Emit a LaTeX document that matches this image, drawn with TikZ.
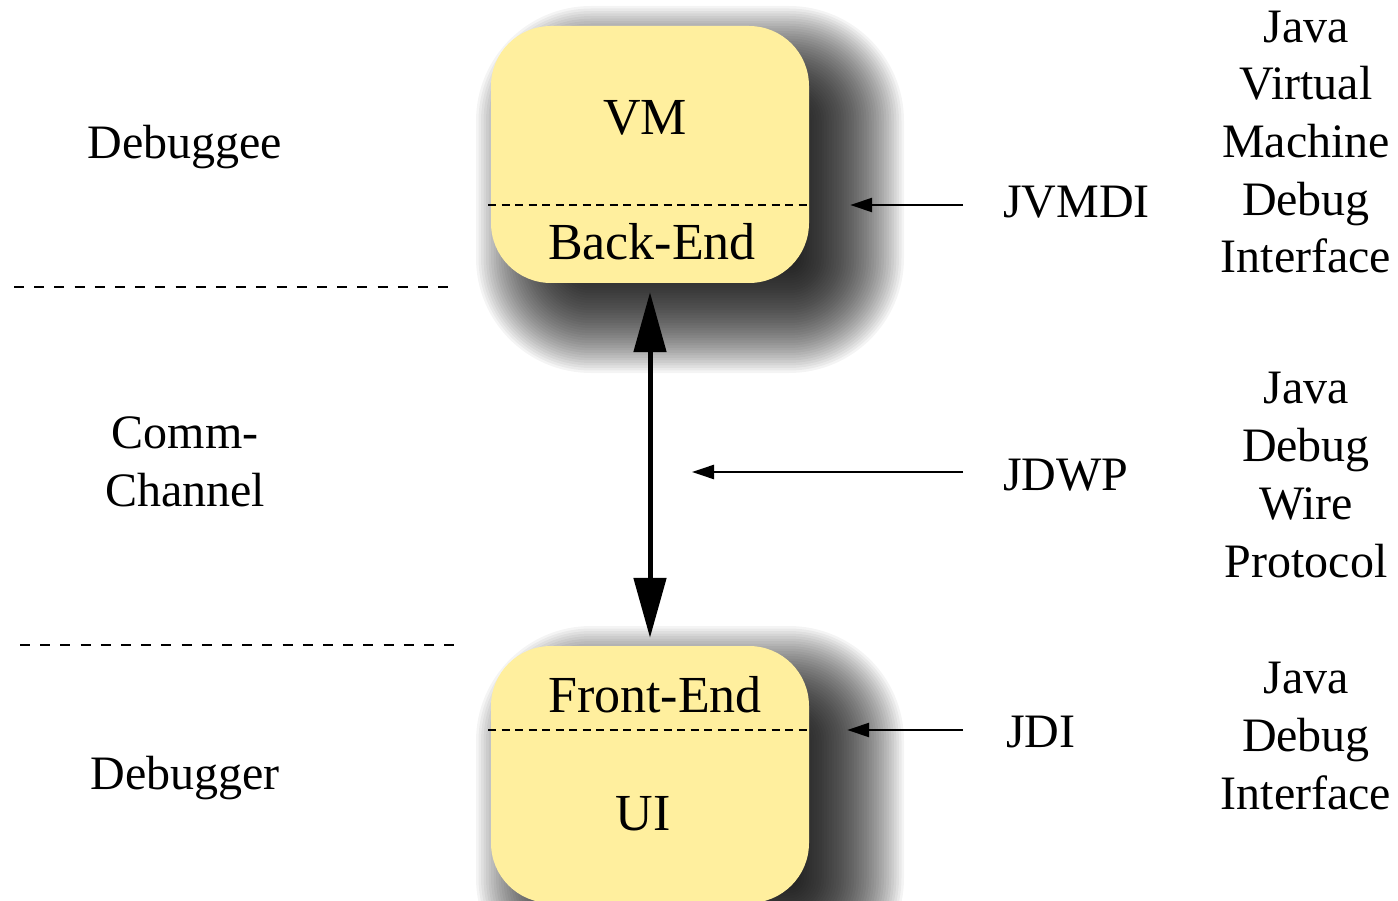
\documentclass[tikz,border=0pt]{standalone}
\usepackage{fontspec}
\setmainfont{Liberation Serif}
\usetikzlibrary{arrows.meta}
\definecolor{boxyellow}{RGB}{255,239,158}
\tikzset{
 boxshape/.style={draw=none,fill=boxyellow,rounded corners=60pt,minimum width=318pt,minimum height=257pt,inner sep=0pt},
 boxlabel/.style={font=\fontsize{52}{60}\selectfont,anchor=base,inner sep=0pt},
 sidelabel/.style={font=\fontsize{48}{57.7}\selectfont,align=center,inner sep=0pt,anchor=base},
 sepline/.style={dash pattern=on 10pt off 10.2pt,line width=2pt},
 splitline/.style={dash pattern=on 8pt off 5.5pt,line width=1.6pt},
 ptr/.style={-{Triangle[length=22pt,width=14pt]},line width=2.5pt},
 bigptr/.style={{Triangle[length=60pt,width=32pt]}-{Triangle[length=60pt,width=32pt]},line width=5pt},
 shadowlayer/.style={fill=black,opacity=0.045},
}
\begin{document}
\begin{tikzpicture}[x=1pt,y=-1pt]
\useasboundingbox (0,0) rectangle (1398,901);
% shadows
\begin{scope}
\clip (460,0) rectangle (910,375);
\foreach \d [evaluate=\d as \r using {max(60+\d,2)}] in {-52.5,-50,...,55}
 \fill[shadowlayer,rounded corners=\r pt] (531-\d,61-\d) rectangle (849+\d,318+\d);
\end{scope}
\begin{scope}
\clip (460,605) rectangle (910,901);
\foreach \d [evaluate=\d as \r using {max(60+\d,2)}] in {-52.5,-50,...,55}
 \fill[shadowlayer,rounded corners=\r pt] (531-\d,681-\d) rectangle (849+\d,938+\d);
\end{scope}
% boxes
\node[boxshape] (be) at (650,154.5) {};
\node[boxshape] (fe) at (650,774.5) {};
\draw[splitline] (488,205) -- (809,205);
\draw[splitline] (488,730) -- (809,730);
\node[boxlabel] (vm) at (645,135) {VM};
\node[boxlabel] (back) at (652,260) {Back-End};
\node[boxlabel] (front) at (655,712) {Front-End};
\node[boxlabel] (ui) at (643,830) {UI};
% separators
\draw[sepline] (14,287) -- (448,287);
\draw[sepline] (20,645) -- (455,645);
% left labels
\node[sidelabel] (dee) at (185,159) {Debuggee};
\node[sidelabel] (comm) at (185,506) {Comm-\\Channel};
\node[sidelabel] (der) at (185,789) {Debugger};
% middle labels
\node[sidelabel,anchor=base west] (jvmdi) at (1003,218) {JVMDI};
\node[sidelabel,anchor=base west] (jdwp) at (1003,490) {JDWP};
\node[sidelabel,anchor=base west] (jdi) at (1006,747) {JDI};
% right labels (base = last line)
\node[sidelabel] (r1) at (1306,273) {Java\\Virtual\\Machine\\Debug\\Interface};
\node[sidelabel] (r2) at (1306,577) {Java\\Debug\\Wire\\Protocol};
\node[sidelabel] (r3) at (1306,809) {Java\\Debug\\Interface};
% arrows
\coordinate (t1) at (963,205);
\coordinate (t2) at (963,472);
\coordinate (h2) at (692,472);
\coordinate (t3) at (963,730);
\draw[ptr,shorten >=41pt] (t1) -- (t1 -| be.east);
\draw[ptr] (t2) -- (h2);
\draw[ptr,shorten >=38pt] (t3) -- (t3 -| fe.east);
\draw[bigptr,shorten <=9pt,shorten >=8pt] (be.south) -- (fe.north);
\end{tikzpicture}
\end{document}
